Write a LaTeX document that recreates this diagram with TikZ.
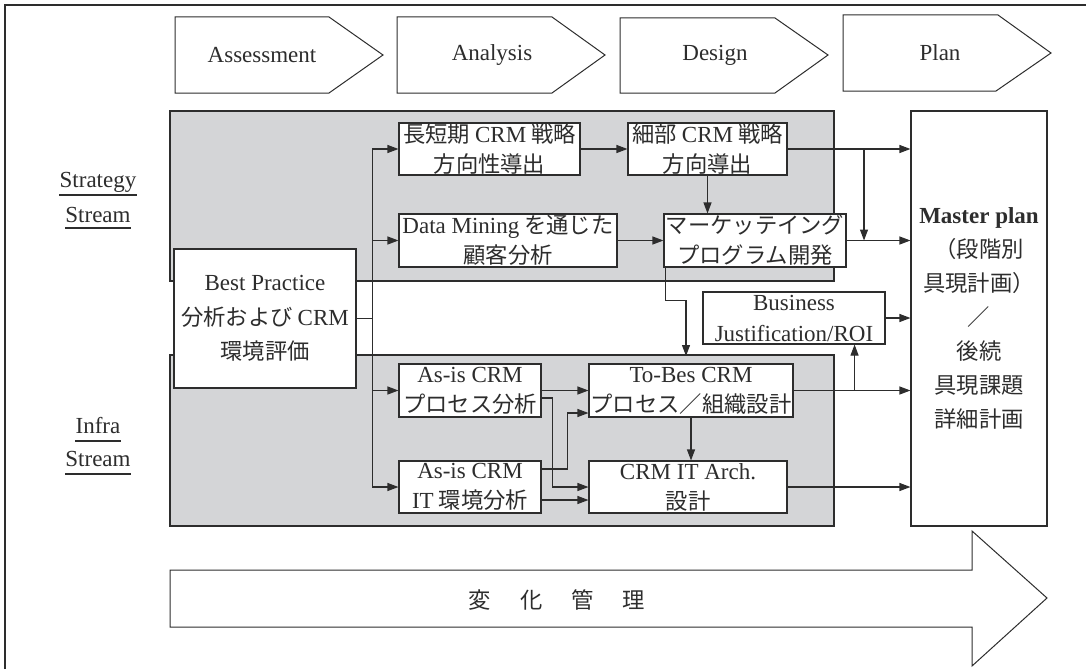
\documentclass[tikz,border=0pt]{standalone}
\usepackage{fontspec}
\setmainfont{Liberation Serif}
\newfontfamily\jp[Scale=0.97]{Noto Sans CJK JP}
\usetikzlibrary{arrows.meta,calc}
\definecolor{bandgray}{RGB}{212,213,215}
\definecolor{ink}{RGB}{45,45,45}
\newcommand\gapsp{\hspace{5pt}}
\begin{document}
\begin{tikzpicture}[x=1pt,y=-1pt,
  every node/.style={font=\fontsize{23}{30}\selectfont, text=ink},
  box/.style={draw=ink, fill=white, line width=1.1pt, inner sep=0pt, align=center},
  band/.style={draw=ink, fill=bandgray, line width=1.1pt},
  chev/.style={draw=ink, fill=white, line width=1pt},
  arr/.style={draw=ink, line width=1.1pt, -{Triangle[length=11pt,width=8pt]}},
  ln/.style={draw=ink, line width=1.1pt},
  lab/.style={inner sep=0pt, anchor=base},
]
\useasboundingbox (0,0) rectangle (1086,669);
\draw[ln] (5,669) -- (5,5) -- (1086,5);

% phase chevrons
\draw[chev] (175,17) -- (329,17) -- (383,55) -- (329,93) -- (175,93) -- cycle;
\node (pa) at (262,55) {Assessment};
\draw[chev] (397,17) -- (552,17) -- (605,55) -- (552,93) -- (397,93) -- cycle;
\node (pb) at (492,55) {Analysis};
\draw[chev] (620,18) -- (775,18) -- (828,55) -- (775,93) -- (620,93) -- cycle;
\node (pc) at (715,55) {Design};
\draw[chev] (843,15) -- (998,15) -- (1051,53) -- (996,91) -- (843,91) -- cycle;
\node (pd) at (940,53) {Plan};

% stream bands
\draw[band] (170,111) rectangle (834,281);
\draw[band] (170,355) rectangle (834,526);

% stream labels
\node[lab] (s1) at (98,187) {Strategy};
\draw[ln] ($(s1.base west)+(0,8)$) -- ($(s1.base east)+(0,8)$);
\node[lab] (s2) at (98,222) {Stream};
\draw[ln] ($(s2.base west)+(0,6)$) -- ($(s2.base east)+(0,6)$);
\node[lab] (i1) at (98,433) {Infra};
\draw[ln] ($(i1.base west)+(0,8)$) -- ($(i1.base east)+(0,8)$);
\node[lab] (i2) at (98,466) {Stream};
\draw[ln] ($(i2.base west)+(0,8)$) -- ($(i2.base east)+(0,8)$);

% boxes
\node[box, minimum width=182pt, minimum height=139pt, font=\fontsize{23}{34.5}\selectfont] (bp) at (265,318.5)
  {Best Practice\\{\jp 分析および}\gapsp CRM\\{\jp 環境評価}};
\node[box, minimum width=181pt, minimum height=52pt] (lt) at (489.5,149)
  {{\jp 長短期}\gapsp CRM\gapsp{\jp 戦略}\\{\jp 方向性導出}};
\node[box, minimum width=159pt, minimum height=52pt] (sb) at (707.5,149)
  {{\jp 細部}\gapsp CRM\gapsp{\jp 戦略}\\{\jp 方向導出}};
\node[box, minimum width=218pt, minimum height=53pt] (dm) at (508,240.5)
  {Data Mining\gapsp{\jp を通じた}\\{\jp 顧客分析}};
\node[box, minimum width=182pt, minimum height=53pt] (mk) at (755,240.5)
  {{\jp マーケッテイング}\\{\jp プログラム開発}};
\node[box, minimum width=182pt, minimum height=52pt, font=\fontsize{23}{31}\selectfont] (bj) at (794,318)
  {Business\\Justification/ROI};
\node[box, minimum width=142pt, minimum height=53pt] (ap) at (470,390.5)
  {As-is CRM\\{\jp プロセス分析}};
\node[box, minimum width=204pt, minimum height=53pt] (tb) at (691,390.5)
  {To-Bes CRM\\{\jp プロセス／組織設計}};
\node[box, minimum width=142pt, minimum height=52pt] (ai) at (470,487)
  {As-is CRM\\IT\gapsp{\jp 環境分析}};
\node[box, minimum width=198pt, minimum height=52pt] (ca) at (688,487)
  {CRM IT Arch.\\{\jp 設計}};
\node[box, minimum width=136pt, minimum height=415pt, font=\fontsize{23}{34}\selectfont] (mp) at (979,318.5)
  {\textbf{Master plan}\\{\jp （段階別}\\{\jp 具現計画）}\\{\jp ／}\\{\jp 後続}\\{\jp 具現課題}\\{\jp 詳細計画}};

% connectors
\draw[ln] (bp.east) -- ++(16,0) coordinate (b0);
\draw[arr] (b0) |- (lt.west);
\draw[arr] (b0) |- (dm.west);
\draw[arr] (b0) |- (ap.west);
\draw[arr] (b0) |- (ai.west);

\draw[arr] (lt.east) -- (sb.west);
\draw[arr] (sb.south) -- (sb.south |- mk.north);
\draw[arr] (dm.east) -- (mk.west);
\draw[arr] (sb.east) -- (sb.east -| mp.west);
\coordinate (j1) at (864,149);
\draw[arr] (j1) -- (j1 |- mk.east);
\draw[arr] (mk.east) -- (mk.east -| mp.west);

\coordinate (tbin) at (686,356);
\draw[arr] ($(mk.south west)+(2,0)$) -- ++(0,33) -| (tbin);

\draw[arr] (bj.east) -- (bj.east -| mp.west);
\draw[arr] (tb.east) -- (tb.east -| mp.west);
\coordinate (j2) at ($(tb.east)+(61,0)$);
\draw[arr] (j2) -- (j2 |- bj.south);
\draw[arr] (ca.east) -- (ca.east -| mp.west);

\draw[arr] (ap.east) -- (ap.east -| tb.west);
\draw[arr] ($(ap.east)+(0,7.5)$) -- ++(11,0) |- (ca.west);
\draw[arr] ($(ai.east)+(0,-18)$) -- ++(26,0) |- ($(tb.west)+(0,22.5)$);
\draw[arr] ($(ai.east)+(0,13)$) -- ($(ca.west)+(0,13)$);
\draw[arr] (tb.south) -- (tb.south |- ca.north);

% change management arrow
\draw[chev] (170,570) -- (972,570) -- (972,531) -- (1047,598) -- (972,666) -- (972,627) -- (170,627) -- cycle;
\node (cm) at (557,600) {\jp 変\hspace{29pt}化\hspace{29pt}管\hspace{29pt}理};
\end{tikzpicture}
\end{document}
